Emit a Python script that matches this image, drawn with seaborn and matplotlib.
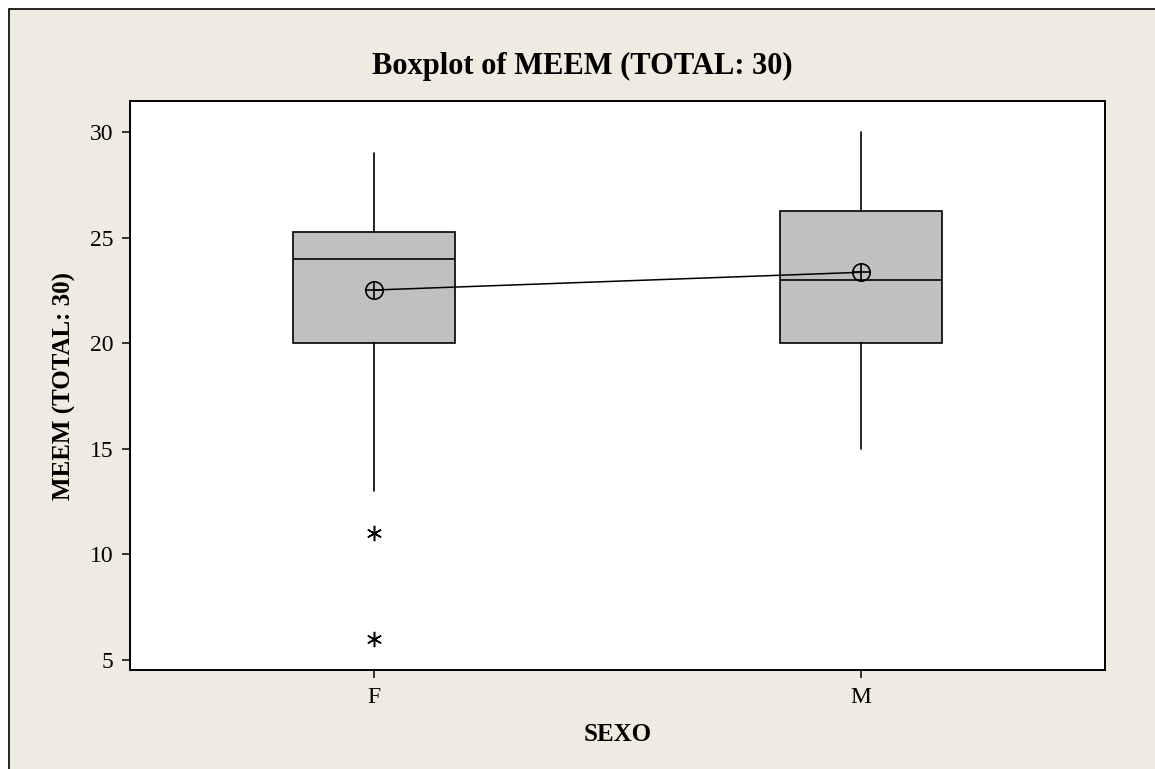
import matplotlib
matplotlib.use("Agg")
import matplotlib.pyplot as plt
from matplotlib.patches import Rectangle
import seaborn as sns
import pandas as pd

# Summary statistics of MEEM (TOTAL: 30) by SEXO
groups = ["F", "M"]
q1 = [20.0, 20.0]
medians = [24.0, 23.0]
q3 = [25.25, 26.25]
whisker_low = [13.0, 15.0]
whisker_high = [29.0, 30.0]
means = [22.52, 23.36]
outliers_F = [11.0, 6.0]
outliers_M = []
y_ticks = [5, 10, 15, 20, 25, 30]

sns.set_theme(style="white")
plt.rcParams["font.family"] = ["Liberation Serif", "DejaVu Serif"]

fig = plt.figure(figsize=(11.55, 7.69), dpi=100, facecolor="white")
# Beige panel with a thin frame on the left and top edges
fig.patches.append(Rectangle((9 / 1155, -0.05), 1.1, 1 - 9 / 769 + 0.05,
                             transform=fig.transFigure, facecolor="#F0EBE1",
                             edgecolor="black", linewidth=1.2, zorder=-5))

ax = fig.add_axes([130 / 1155, 1 - 670 / 769, 975 / 1155, 569 / 769])
ax.set_zorder(2)
ax.set_facecolor("white")

stats = []
for i, g in enumerate(groups):
    stats.append({
        "label": g,
        "q1": q1[i], "med": medians[i], "q3": q3[i],
        "whislo": whisker_low[i], "whishi": whisker_high[i],
        "fliers": outliers_F if g == "F" else outliers_M,
        "mean": means[i],
    })

ax.bxp(stats, positions=[0, 1], widths=0.332, showcaps=False, showfliers=True,
       patch_artist=True,
       boxprops=dict(facecolor="#C0C0C0", edgecolor="black", linewidth=1.2),
       medianprops=dict(color="black", linewidth=1.2),
       whiskerprops=dict(color="black", linewidth=1.2),
       flierprops=dict(marker=(6, 2, 0), markersize=11, markeredgecolor="black",
                       markeredgewidth=1.1, linestyle="none"))

# Mean connect line with circled-plus symbols
mean_df = pd.DataFrame({"pos": [0, 1], "mean": means})
sns.lineplot(data=mean_df, x="pos", y="mean", color="black", linewidth=1.1,
             ax=ax, zorder=5)
ax.plot([0, 1], means, linestyle="none", marker="o", markersize=12.5,
        markerfacecolor="none", markeredgecolor="black", markeredgewidth=1.2,
        zorder=6)
ax.plot([0, 1], means, linestyle="none", marker="+", markersize=12.5,
        markeredgecolor="black", markeredgewidth=1.2, zorder=6)

ax.set_xlim(-0.5, 1.5)
ax.set_ylim(4.53, 31.47)
ax.set_xticks([0, 1])
ax.set_xticklabels(groups)
ax.set_yticks(y_ticks)
ax.set_yticklabels([str(t) for t in y_ticks])
ax.tick_params(axis="both", which="both", direction="out", length=6, width=1.1,
               color="black", labelsize=17, labelcolor="black", pad=6,
               left=True, bottom=True)
for s in ax.spines.values():
    s.set_color("black")
    s.set_linewidth(1.4)

ax.set_xlabel("SEXO", fontsize=18, fontweight="bold", color="black", labelpad=11)
ax.set_ylabel("MEEM (TOTAL: 30)", fontsize=18, fontweight="bold", color="black",
              labelpad=10)
fig.text(582 / 1155, 1 - 66 / 769, "Boxplot of MEEM (TOTAL: 30)",
         ha="center", va="center", fontsize=22, fontweight="bold", color="black")

fig.savefig("out.png", dpi=100, facecolor=fig.get_facecolor())
